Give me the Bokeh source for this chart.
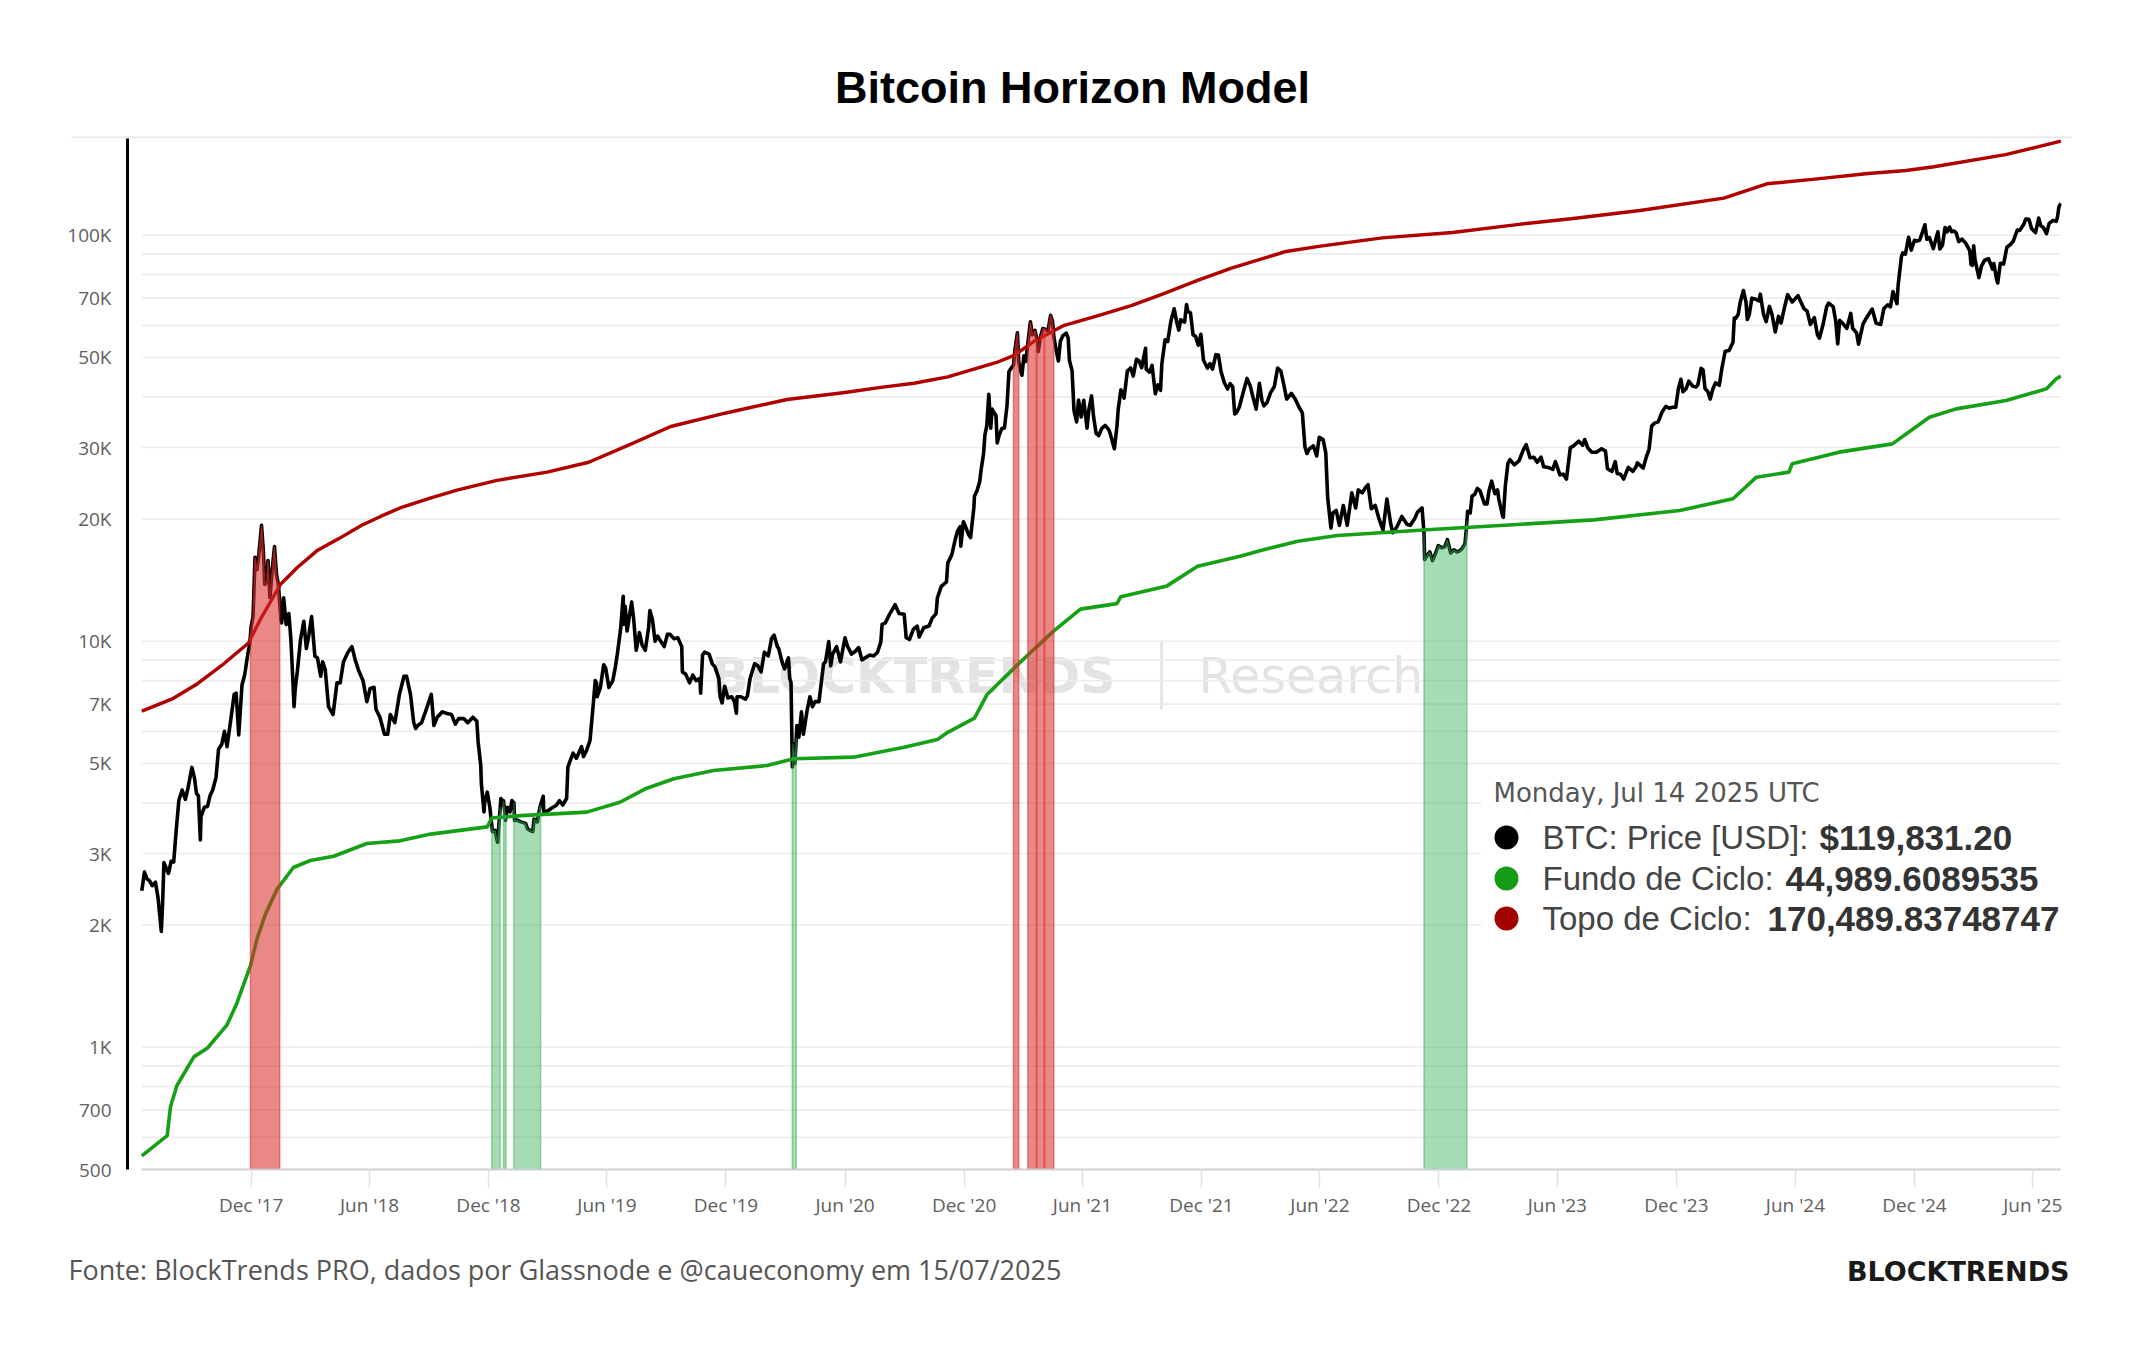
import numpy as np
import pandas as pd
from bokeh.plotting import figure
from bokeh.layouts import column
from bokeh.models import Range1d, FixedTicker, DatetimeTickFormatter, Label
from bokeh.embed import file_html
from bokeh.resources import INLINE

# ---------------- data ----------------
price_dates = [
 "2017-06-16","2017-06-20","2017-06-24","2017-06-28","2017-07-02","2017-07-07","2017-07-11","2017-07-16","2017-07-18","2017-07-20",
 "2017-07-24","2017-07-27","2017-07-31","2017-08-04","2017-08-08","2017-08-12","2017-08-17","2017-08-22","2017-08-26","2017-09-01",
 "2017-09-05","2017-09-08","2017-09-11","2017-09-14","2017-09-15","2017-09-20","2017-09-25","2017-09-29","2017-10-03","2017-10-08",
 "2017-10-12","2017-10-17","2017-10-21","2017-10-25","2017-10-31","2017-11-05","2017-11-08","2017-11-12","2017-11-17","2017-11-21",
 "2017-11-26","2017-11-29","2017-12-01","2017-12-04","2017-12-07","2017-12-10","2017-12-13","2017-12-17","2017-12-20","2017-12-22",
 "2017-12-25","2017-12-27","2017-12-30","2018-01-02","2018-01-06","2018-01-09","2018-01-12","2018-01-16","2018-01-17","2018-01-20",
 "2018-01-24","2018-01-28","2018-01-31","2018-02-02","2018-02-05","2018-02-07","2018-02-10","2018-02-15","2018-02-20","2018-02-24",
 "2018-02-28","2018-03-04","2018-03-09","2018-03-13","2018-03-18","2018-03-21","2018-03-25","2018-03-30","2018-04-06","2018-04-12",
 "2018-04-17","2018-04-22","2018-04-29","2018-05-05","2018-05-10","2018-05-15","2018-05-22","2018-05-28","2018-06-02","2018-06-08",
 "2018-06-11","2018-06-17","2018-06-24","2018-06-29","2018-07-03","2018-07-10","2018-07-17","2018-07-24","2018-07-28","2018-08-03",
 "2018-08-08","2018-08-11","2018-08-14","2018-08-20","2018-08-26","2018-09-04","2018-09-08","2018-09-13","2018-09-21","2018-09-27",
 "2018-10-05","2018-10-11","2018-10-16","2018-10-24","2018-10-30","2018-11-07","2018-11-13","2018-11-15","2018-11-19","2018-11-20",
 "2018-11-24","2018-11-25","2018-11-29","2018-12-03","2018-12-07","2018-12-11","2018-12-14","2018-12-15","2018-12-17","2018-12-20",
 "2018-12-23","2018-12-24","2018-12-26","2018-12-27","2018-12-30","2019-01-03","2019-01-06","2019-01-09","2019-01-10","2019-01-14",
 "2019-01-18","2019-01-22","2019-01-27","2019-01-30","2019-02-03","2019-02-07","2019-02-09","2019-02-14","2019-02-18","2019-02-23",
 "2019-02-24","2019-02-28","2019-03-05","2019-03-10","2019-03-15","2019-03-20","2019-03-25","2019-03-31","2019-04-02","2019-04-05",
 "2019-04-10","2019-04-15","2019-04-23","2019-04-26","2019-05-01","2019-05-06","2019-05-11","2019-05-14","2019-05-16","2019-05-17",
 "2019-05-22","2019-05-27","2019-05-30","2019-06-04","2019-06-10","2019-06-14","2019-06-17","2019-06-22","2019-06-26","2019-06-27",
 "2019-06-29","2019-07-02","2019-07-09","2019-07-12","2019-07-16","2019-07-21","2019-07-25","2019-07-30","2019-08-04","2019-08-06",
 "2019-08-10","2019-08-14","2019-08-18","2019-08-21","2019-08-28","2019-09-02","2019-09-06","2019-09-12","2019-09-18","2019-09-24",
 "2019-09-25","2019-09-30","2019-10-06","2019-10-11","2019-10-16","2019-10-22","2019-10-23","2019-10-26","2019-10-29","2019-11-05",
 "2019-11-10","2019-11-14","2019-11-20","2019-11-22","2019-11-25","2019-11-29","2019-12-04","2019-12-10","2019-12-14","2019-12-17",
 "2019-12-18","2019-12-24","2019-12-31","2020-01-03","2020-01-07","2020-01-14","2020-01-19","2020-01-24","2020-01-29","2020-02-04",
 "2020-02-09","2020-02-13","2020-02-18","2020-02-20","2020-02-26","2020-02-29","2020-03-06","2020-03-08","2020-03-10","2020-03-12",
 "2020-03-13","2020-03-16","2020-03-19","2020-03-22","2020-03-26","2020-03-29","2020-04-04","2020-04-08","2020-04-12","2020-04-16",
 "2020-04-22","2020-04-29","2020-05-02","2020-05-07","2020-05-10","2020-05-13","2020-05-19","2020-05-25","2020-06-01","2020-06-05",
 "2020-06-11","2020-06-17","2020-06-22","2020-06-27","2020-07-02","2020-07-09","2020-07-15","2020-07-21","2020-07-26","2020-07-28",
 "2020-08-02","2020-08-09","2020-08-17","2020-08-23","2020-08-31","2020-09-03","2020-09-08","2020-09-14","2020-09-20","2020-09-23",
 "2020-09-30","2020-10-08","2020-10-13","2020-10-19","2020-10-21","2020-10-27","2020-11-04","2020-11-06","2020-11-12","2020-11-17",
 "2020-11-21","2020-11-25","2020-11-26","2020-11-30","2020-12-03","2020-12-08","2020-12-11","2020-12-16","2020-12-17","2020-12-21",
 "2020-12-25","2020-12-27","2020-12-31","2021-01-02","2021-01-05","2021-01-08","2021-01-11","2021-01-13","2021-01-15","2021-01-19",
 "2021-01-21","2021-01-24","2021-01-28","2021-02-01","2021-02-05","2021-02-08","2021-02-12","2021-02-15","2021-02-17","2021-02-21",
 "2021-02-23","2021-02-26","2021-02-28","2021-03-03","2021-03-06","2021-03-10","2021-03-13","2021-03-16","2021-03-20","2021-03-24",
 "2021-03-25","2021-03-28","2021-04-01","2021-04-05","2021-04-09","2021-04-13","2021-04-16","2021-04-18","2021-04-22","2021-04-25",
 "2021-04-28","2021-05-02","2021-05-07","2021-05-10","2021-05-12","2021-05-16","2021-05-19","2021-05-23","2021-05-26","2021-05-30",
 "2021-06-03","2021-06-08","2021-06-11","2021-06-15","2021-06-18","2021-06-22","2021-06-26","2021-07-01","2021-07-06","2021-07-12",
 "2021-07-16","2021-07-20","2021-07-24","2021-07-26","2021-07-30","2021-08-04","2021-08-09","2021-08-14","2021-08-18","2021-08-23",
 "2021-08-27","2021-08-31","2021-09-06","2021-09-07","2021-09-12","2021-09-16","2021-09-21","2021-09-25","2021-09-29","2021-10-01",
 "2021-10-06","2021-10-10","2021-10-15","2021-10-20","2021-10-24","2021-10-27","2021-10-30","2021-11-05","2021-11-08","2021-11-10",
 "2021-11-14","2021-11-18","2021-11-22","2021-11-26","2021-11-30","2021-12-04","2021-12-10","2021-12-14","2021-12-18","2021-12-23",
 "2021-12-27","2021-12-31","2022-01-05","2022-01-10","2022-01-14","2022-01-18","2022-01-21","2022-01-24","2022-01-28","2022-02-04",
 "2022-02-09","2022-02-14","2022-02-18","2022-02-23","2022-02-28","2022-03-04","2022-03-07","2022-03-12","2022-03-17","2022-03-23",
 "2022-03-28","2022-04-02","2022-04-06","2022-04-11","2022-04-18","2022-04-24","2022-04-30","2022-05-05","2022-05-09","2022-05-12",
 "2022-05-16","2022-05-22","2022-05-27","2022-05-31","2022-06-06","2022-06-10","2022-06-13","2022-06-18","2022-06-21","2022-06-26",
 "2022-07-01","2022-07-07","2022-07-13","2022-07-20","2022-07-26","2022-07-30","2022-08-05","2022-08-10","2022-08-14","2022-08-19",
 "2022-08-25","2022-08-31","2022-09-06","2022-09-12","2022-09-18","2022-09-21","2022-09-27","2022-10-05","2022-10-13","2022-10-18",
 "2022-10-25","2022-10-29","2022-11-05","2022-11-08","2022-11-09","2022-11-13","2022-11-17","2022-11-21","2022-11-26","2022-11-30",
 "2022-12-05","2022-12-10","2022-12-14","2022-12-19","2022-12-24","2022-12-29","2023-01-02","2023-01-06","2023-01-10","2023-01-12",
 "2023-01-14","2023-01-18","2023-01-21","2023-01-25","2023-01-29","2023-02-02","2023-02-09","2023-02-13","2023-02-16","2023-02-20",
 "2023-02-25","2023-03-01","2023-03-03","2023-03-09","2023-03-10","2023-03-13","2023-03-17","2023-03-20","2023-03-27","2023-04-03",
 "2023-04-10","2023-04-14","2023-04-20","2023-04-26","2023-05-01","2023-05-07","2023-05-11","2023-05-18","2023-05-25","2023-05-29",
 "2023-06-05","2023-06-10","2023-06-15","2023-06-21","2023-06-26","2023-07-04","2023-07-10","2023-07-13","2023-07-18","2023-07-24",
 "2023-07-31","2023-08-08","2023-08-14","2023-08-17","2023-08-24","2023-08-29","2023-09-01","2023-09-06","2023-09-11","2023-09-18",
 "2023-09-25","2023-09-30","2023-10-02","2023-10-11","2023-10-16","2023-10-20","2023-10-24","2023-10-29","2023-11-03","2023-11-09",
 "2023-11-15","2023-11-20","2023-11-25","2023-11-30","2023-12-04","2023-12-08","2023-12-11","2023-12-16","2023-12-20","2023-12-26",
 "2023-12-31","2024-01-03","2024-01-08","2024-01-11","2024-01-14","2024-01-18","2024-01-22","2024-01-26","2024-01-30","2024-02-05",
 "2024-02-09","2024-02-14","2024-02-20","2024-02-26","2024-02-28","2024-03-01","2024-03-05","2024-03-08","2024-03-13","2024-03-17",
 "2024-03-19","2024-03-22","2024-03-26","2024-04-01","2024-04-06","2024-04-08","2024-04-13","2024-04-17","2024-04-22","2024-04-26",
 "2024-05-01","2024-05-06","2024-05-10","2024-05-15","2024-05-20","2024-05-27","2024-06-05","2024-06-08","2024-06-14","2024-06-19",
 "2024-06-24","2024-06-30","2024-07-05","2024-07-08","2024-07-14","2024-07-19","2024-07-22","2024-07-29","2024-08-02","2024-08-05",
 "2024-08-08","2024-08-13","2024-08-19","2024-08-25","2024-08-28","2024-09-03","2024-09-06","2024-09-13","2024-09-19","2024-09-27",
 "2024-10-03","2024-10-10","2024-10-15","2024-10-21","2024-10-25","2024-10-29","2024-11-04","2024-11-06","2024-11-11","2024-11-13",
 "2024-11-17","2024-11-22","2024-11-26","2024-12-01","2024-12-05","2024-12-09","2024-12-13","2024-12-17","2024-12-20","2024-12-24",
 "2024-12-30","2025-01-03","2025-01-06","2025-01-09","2025-01-13","2025-01-17","2025-01-20","2025-01-24","2025-01-27","2025-01-31",
 "2025-02-03","2025-02-07","2025-02-12","2025-02-18","2025-02-24","2025-02-26","2025-02-28","2025-03-02","2025-03-04","2025-03-10",
 "2025-03-14","2025-03-19","2025-03-25","2025-03-31","2025-04-02","2025-04-06","2025-04-08","2025-04-12","2025-04-17","2025-04-22",
 "2025-04-28","2025-05-02","2025-05-08","2025-05-12","2025-05-18","2025-05-21","2025-05-26","2025-05-30","2025-06-05","2025-06-10",
 "2025-06-13","2025-06-17","2025-06-22","2025-06-26","2025-07-02","2025-07-07","2025-07-09","2025-07-11","2025-07-14",
]
price_usd = [
 2430,2700,2600,2570,2500,2550,2330,1930,2270,2850,
 2750,2680,2870,2860,3440,4060,4300,4080,4350,4890,
 4600,4220,4160,3240,3700,3900,3920,4170,4300,4610,
 5430,5580,6000,5500,6450,7400,7450,5880,7800,8250,
 9300,9880,10850,11500,16100,15000,16400,19300,16500,13800,
 14000,15800,12800,14800,17100,14600,13800,11200,11100,12800,
 11000,11700,10200,8800,6900,7700,8400,10100,11200,9600,
 10400,11500,9200,9100,8200,8900,8500,6900,6600,7900,
 7900,8900,9400,9700,9000,8500,8000,7100,7650,7700,
 6800,6500,5900,5900,6600,6300,7400,8200,8200,7400,
 6300,6100,6200,6300,6700,7400,6200,6500,6700,6650,
 6600,6250,6450,6450,6300,6500,6350,5650,4950,4450,
 3800,4000,4250,3900,3400,3420,3240,3200,3550,4100,
 4000,4050,3800,3620,3900,3800,4050,4000,3620,3630,
 3600,3580,3560,3450,3420,3400,3650,3590,3900,4150,
 3800,3810,3850,3900,3940,4050,3950,4100,4900,5050,
 5300,5150,5500,5200,5400,5700,7000,8000,7900,7300,
 7700,8750,8600,7700,8000,8650,9300,10700,12900,11000,
 12200,10600,12500,11400,9500,10500,9800,9500,10800,11900,
 11300,10000,10300,10100,9700,10400,10400,10150,10200,9700,
 8400,8300,7900,8250,8000,8100,7450,9250,9400,9300,
 8800,8650,8100,7300,7050,7750,7250,7300,7100,6650,
 7300,7300,7200,7340,8100,8800,8700,8400,9400,9200,
 10150,10350,9700,9600,8800,8550,9100,8100,7900,4900,
 5600,5000,6200,5800,6700,5900,6800,7300,6900,7100,
 7100,8800,8900,9980,8700,9300,9700,8900,10200,9700,
 9300,9450,9650,9000,9100,9250,9200,9400,9950,11000,
 11100,11700,12300,11700,11650,10200,10100,10700,10900,10250,
 10800,10900,11400,11700,12800,13650,14000,15600,16300,17700,
 18700,19150,17150,19700,19200,18300,18000,21300,22800,23500,
 24700,26300,29000,32200,34000,40600,33500,37300,36800,36000,
 30800,32200,33400,33500,38000,46200,47200,47900,52000,57500,
 48800,46300,45200,50500,48900,55900,61200,56900,58300,54500,
 51700,55800,58900,58700,58100,63500,61400,56200,51700,49000,
 54800,56600,57400,55800,49200,46400,37000,34700,39300,35700,
 39200,33500,37300,40200,35800,32500,32100,33500,34000,33100,
 31500,29800,33800,37300,41600,39700,46300,47100,45000,49500,
 49000,47200,52700,46800,46000,47800,40700,42800,41500,48200,
 55300,54700,61500,65900,61000,58400,61900,61100,67500,64900,
 64400,56900,56300,53600,57000,49300,47100,48300,46800,50800,
 50700,46200,43400,41800,43100,42300,36300,36600,37700,41500,
 44400,42500,40000,37300,43200,39100,38000,38800,40900,42400,
 47100,46300,43200,39500,40800,39500,37700,36500,30100,29000,
 29800,30300,28600,31800,31400,29100,22500,19000,20700,21000,
 19300,21600,19300,23200,21300,23600,23200,23900,24300,21200,
 21600,20000,18800,22400,19400,18500,19100,20300,19400,19300,
 20100,20800,21300,18500,15900,16300,16600,15800,16500,17200,
 17000,17100,17800,16500,16800,16600,16700,16950,17400,18800,
 20900,20700,22800,23000,23800,23500,21800,21800,23500,24800,
 23100,23600,22400,20300,20200,24100,27400,28000,27200,27800,
 29700,30500,28300,28400,27600,28400,26900,26800,26500,27700,
 25700,25800,25100,30000,30300,31100,30400,31400,29900,29200,
 29200,29800,29400,26600,26200,27700,25900,25800,25100,26800,
 26200,26900,27500,26700,28500,29700,33900,34500,34700,36700,
 37900,37500,37700,37700,41900,44200,41200,41900,43700,42500,
 42300,42800,47000,46600,41900,41300,39500,41800,43300,42700,
 47100,51800,52000,54500,62500,62400,63800,68300,73100,68400,
 62000,63800,70000,69600,68900,71600,63800,61300,66800,63800,
 57800,63100,60800,66200,71400,68500,71000,69300,66000,65000,
 60300,62700,56700,55800,60800,66700,68000,66700,61400,54000,
 61700,60600,59000,64200,59000,57500,53900,60500,62900,65800,
 60700,60300,66000,67400,66600,72700,67800,75600,88700,90500,
 89800,98900,91900,97200,96700,97300,101500,106100,97800,98700,
 92700,98100,102000,92500,94500,104500,102000,104700,102000,102400,
 101400,96500,97800,95500,91500,84700,84300,94200,87200,78600,
 84000,86800,87500,82500,85200,78200,76300,85300,84900,93400,
 95000,96900,103000,102800,106400,109600,109400,103900,101500,110200,
 105600,104600,100900,107000,108800,108200,111300,117500,119831.20,
]

top_dates = [
 "2017-06-16","2017-08-01","2017-09-09","2017-10-20","2017-11-27","2017-12-15","2018-01-01","2018-01-15",
 "2018-02-10","2018-03-12","2018-04-15","2018-05-20","2018-06-18","2018-07-18","2018-09-01","2018-10-15",
 "2018-12-14","2019-03-01","2019-05-04","2019-07-06","2019-09-07","2019-12-01","2020-03-04","2020-06-01",
 "2020-07-26","2020-09-15","2020-11-06","2020-12-20","2021-01-20","2021-02-16","2021-03-20","2021-05-04",
 "2021-06-20","2021-08-15","2021-10-01","2021-11-25","2022-01-16","2022-04-10","2022-06-02","2022-09-05",
 "2022-12-22","2023-04-03","2023-06-22","2023-10-06","2024-02-12","2024-04-18","2024-07-01","2024-09-21",
 "2024-11-18","2024-12-31","2025-04-20","2025-07-14",
]
top_usd = [
 6730,7200,7850,8800,9900,11300,12600,13800,
 15200,16700,17900,19300,20300,21300,22500,23600,
 24900,26100,27600,30500,33800,36500,39400,41000,
 42200,43200,44800,47000,48600,50600,55000,60000,
 63000,67100,71500,77400,83000,91200,94000,98500,
 101600,106400,109800,115100,123400,133900,137500,141900,
 144400,147500,158000,170489.83748747,
]

bottom_dates = [
 "2017-06-16","2017-07-25","2017-07-30","2017-08-09","2017-09-04","2017-09-25","2017-10-25","2017-11-09",
 "2017-11-30","2017-12-10","2017-12-23","2018-01-10","2018-02-04","2018-03-02","2018-04-07","2018-05-28",
 "2018-07-18","2018-09-03","2018-11-29","2018-12-06","2019-01-19","2019-05-01","2019-06-21","2019-07-30",
 "2019-09-12","2019-11-12","2020-02-02","2020-03-14","2020-06-14","2020-08-31","2020-10-21","2020-11-06",
 "2020-12-17","2021-01-05","2021-02-25","2021-04-18","2021-05-29","2021-07-24","2021-07-30","2021-10-09",
 "2021-11-25","2022-01-31","2022-03-02","2022-04-28","2022-06-28","2022-11-13","2023-04-16","2023-07-27",
 "2023-12-06","2024-02-26","2024-04-02","2024-05-22","2024-05-27","2024-08-07","2024-10-28","2024-12-24",
 "2025-02-03","2025-04-21","2025-06-22","2025-07-07","2025-07-14",
]
bottom_usd = [
 540,606,713,805,947,996,1136,1282,
 1588,1846,2128,2452,2772,2884,2955,3177,
 3224,3350,3490,3670,3720,3795,4013,4331,
 4585,4805,4942,5136,5183,5483,5730,5967,
 6470,7380,8870,10610,12000,12380,12880,13690,
 15310,16220,16730,17640,18220,18820,19460,19910,
 20990,22440,25360,26100,27360,29230,30630,35630,
 37360,39160,41860,44300,44989.6089535,
]

top_zone_starts = ["2017-11-30","2021-02-15","2021-03-09","2021-03-23","2021-04-04"]
top_zone_ends   = ["2018-01-14","2021-02-23","2021-03-22","2021-04-03","2021-04-18"]
bottom_zone_starts = ["2018-12-06","2018-12-24","2019-01-09","2020-03-12","2022-11-08"]
bottom_zone_ends   = ["2018-12-19","2018-12-28","2019-02-19","2020-03-18","2023-01-13"]

y_tick_values = [500, 700, 1000, 2000, 3000, 5000, 7000, 10000, 20000, 30000, 50000, 70000, 100000]
y_tick_labels = ["500", "700", "1K", "2K", "3K", "5K", "7K", "10K", "20K", "30K", "50K", "70K", "100K"]
y_grid_values = [m * 10 ** e for e in (2, 3, 4) for m in range(1, 10) if 500 < m * 10 ** e] + [100000]
x_tick_dates = ["2017-12-01","2018-06-01","2018-12-01","2019-06-01","2019-12-01","2020-06-01","2020-12-01","2021-06-01",
                "2021-12-01","2022-06-01","2022-12-01","2023-06-01","2023-12-01","2024-06-01","2024-12-01","2025-06-01"]

title_text = "Bitcoin Horizon Model"
source_text = "Fonte: BlockTrends PRO, dados por Glassnode e @caueconomy em 15/07/2025"
brand_text = "BLOCKTRENDS"
legend_date = "Monday, Jul 14 2025 UTC"
legend_names = ["BTC: Price [USD]:", "Fundo de Ciclo:", "Topo de Ciclo:"]
legend_values = ["$119,831.20", "44,989.6089535", "170,489.83748747"]
legend_colors = ["#000000", "#149c14", "#a30000"]

# ---------------- layout geometry (page pixels) ----------------
W, H = 2144, 1350
TOP_H = 138          # title strip
MAIN_H = 1092        # chart strip (138 .. 1230)
FOOT_H = H - TOP_H - MAIN_H
FL, FT, FR, FB = 127, 138, 2061, 1169   # plot frame in page pixels
x0_ms = pd.Timestamp("2017-05-25").value / 1e6
x1_ms = pd.Timestamp("2025-07-15").value / 1e6
y0, y1 = 500.0, 173100.0


def px_x(px):
    return x0_ms + (px - FL) / (FR - FL) * (x1_ms - x0_ms)


def px_y(py):
    return 10 ** (np.log10(y0) + (FB - py) / (FB - FT) * (np.log10(y1) - np.log10(y0)))


def ms(d):
    return pd.Timestamp(d).value / 1e6


p_t = np.array([ms(d) for d in price_dates])
p_v = np.array(price_usd, dtype=float)
t_t = np.array([ms(d) for d in top_dates])
b_t = np.array([ms(d) for d in bottom_dates])

# ---------------- title strip ----------------
top = figure(width=W, height=TOP_H, x_range=Range1d(0, W), y_range=Range1d(TOP_H, 0),
             x_axis_location=None, y_axis_location=None, output_backend="svg", toolbar_location=None,
             min_border=0, frame_align=False)
top.outline_line_color = None
top.grid.visible = False
top.add_layout(Label(x=1072, y=87, text=title_text, text_font="Liberation Sans", text_font_style="bold",
                     text_font_size="45px", text_color="#000000", text_align="center", text_baseline="middle"))
top.segment(x0=[71], x1=[2071], y0=[137], y1=[137], line_color="#e6e6e6", line_width=2)

# ---------------- main chart ----------------
p = figure(width=W, height=MAIN_H, x_axis_type="datetime", y_axis_type="log",
           x_range=Range1d(x0_ms, x1_ms), y_range=Range1d(y0, y1),
           output_backend="svg", toolbar_location=None, frame_align=False,
           min_border_left=FL, min_border_right=W - FR, min_border_top=0,
           min_border_bottom=TOP_H + MAIN_H - FB)
p.outline_line_color = None
p.xgrid.visible = False
p.ygrid.visible = False

# watermark (under data)
p.add_layout(Label(x=px_x(711), y=px_y(676), text="BLOCKTRENDS", text_font="DejaVu Sans",
                   text_font_style="bold", text_font_size="49px", text_color="#e3e3e3",
                   text_baseline="middle", level="underlay"))
p.add_layout(Label(x=px_x(1198), y=px_y(676), text="Research", text_font="DejaVu Sans",
                   text_font_size="49px", text_color="#e3e3e3",
                   text_baseline="middle", level="underlay"))
p.segment(x0=[px_x(1161)], x1=[px_x(1161)], y0=[px_y(641)], y1=[px_y(709)], line_color="#e2e2e2", line_width=2.5)

# horizontal grid lines
n = len(y_grid_values)
p.segment(x0=[p_t[0]] * n, x1=[p_t[-1]] * n, y0=y_grid_values, y1=y_grid_values,
          line_color="#ededed", line_width=1.6)

# legend backdrop
p.quad(left=[px_x(1481)], right=[x1_ms], bottom=[px_y(945)], top=[px_y(768)],
       fill_color="white", line_color=None)

# series
p.line(p_t, p_v, line_color="black", line_width=3.6, line_join="round")
p.line(t_t, top_usd, line_color="#b00000", line_width=3.4, line_join="round")
p.line(b_t, bottom_usd, line_color="#16a016", line_width=3.6, line_join="round")

# zone fills (baseline up to price)
lp = np.log10(p_v)


def zone(start, end):
    s, e = ms(start), ms(end)
    inside = (p_t > s) & (p_t < e)
    xs = np.concatenate([[s, s], p_t[inside], [e, e]])
    ys = np.concatenate([[y0, 10 ** np.interp(s, p_t, lp)], p_v[inside], [10 ** np.interp(e, p_t, lp), y0]])
    return xs, ys


for s, e in zip(top_zone_starts, top_zone_ends):
    xs, ys = zone(s, e)
    p.patch(xs, ys, fill_color="#d92b2b", fill_alpha=0.56, line_color="#d92b2b", line_alpha=0.55, line_width=1.5)
for s, e in zip(bottom_zone_starts, bottom_zone_ends):
    xs, ys = zone(s, e)
    p.patch(xs, ys, fill_color="#2fae4f", fill_alpha=0.43, line_color="#2fae4f", line_alpha=0.45, line_width=1.5)

# axes
yax = p.yaxis[0]
yax.ticker = FixedTicker(ticks=y_tick_values)
yax.major_label_overrides = {v: l for v, l in zip(y_tick_values, y_tick_labels)}
yax.axis_line_color = "black"
yax.axis_line_width = 3
yax.major_tick_line_color = None
yax.minor_tick_line_color = None
yax.major_label_standoff = 10
yax.major_label_text_font = "Open Sans"
yax.major_label_text_font_size = "19px"
yax.major_label_text_color = "#606060"

xax = p.xaxis[0]
xax.ticker = FixedTicker(ticks=[ms(d) for d in x_tick_dates])
fmt = "%b '%y"
xax.formatter = DatetimeTickFormatter(years=fmt, months=fmt, days=fmt, hours=fmt, minutes=fmt, seconds=fmt,
                                      milliseconds=fmt, microseconds=fmt, hourmin=fmt, minsec=fmt)
xax.bounds = (p_t[0], p_t[-1])
xax.axis_line_color = "#cfcfcf"
xax.axis_line_width = 2
xax.major_tick_in = 0
xax.major_tick_out = 18
xax.major_tick_line_color = "#e2e2e2"
xax.major_tick_line_width = 1.5
xax.minor_tick_line_color = None
xax.major_label_standoff = 4
xax.major_label_text_font = "Open Sans"
xax.major_label_text_font_size = "19px"
xax.major_label_text_color = "#606060"

# legend
p.add_layout(Label(x=px_x(1493), y=px_y(792), text=legend_date, text_font="DejaVu Sans",
                   text_font_size="26px", text_color="#555555", text_baseline="middle"))
row_y = [837, 878, 918]
value_x = [1819, 1785, 1767]
p.scatter(x=[px_x(1506)] * 3, y=[px_y(v) for v in row_y], size=24, marker="circle",
          fill_color=legend_colors, line_color=None)
for name, val, ry, vx in zip(legend_names, legend_values, row_y, value_x):
    p.add_layout(Label(x=px_x(1542), y=px_y(ry), text=name, text_font="Liberation Sans",
                       text_font_size="33px", text_color="#444444", text_baseline="middle"))
    p.add_layout(Label(x=px_x(vx), y=px_y(ry), text=val, text_font="Liberation Sans", text_font_style="bold",
                       text_font_size="35px", text_color="#333333", text_baseline="middle"))

# ---------------- footer strip ----------------
foot = figure(width=W, height=FOOT_H, x_range=Range1d(0, W), y_range=Range1d(H, H - FOOT_H),
              x_axis_location=None, y_axis_location=None, output_backend="svg", toolbar_location=None,
              min_border=0, frame_align=False)
foot.outline_line_color = None
foot.grid.visible = False
foot.add_layout(Label(x=68, y=1269, text=source_text, text_font="Open Sans", text_font_size="27px",
                      text_color="#555555", text_align="left", text_baseline="middle"))
foot.add_layout(Label(x=2069, y=1271, text=brand_text, text_font="DejaVu Sans", text_font_style="bold",
                      text_font_size="27px", text_color="#1a1a1a", text_align="right", text_baseline="middle"))

layout = column(top, p, foot, spacing=0)
open("out.html", "w").write(file_html(layout, INLINE))
